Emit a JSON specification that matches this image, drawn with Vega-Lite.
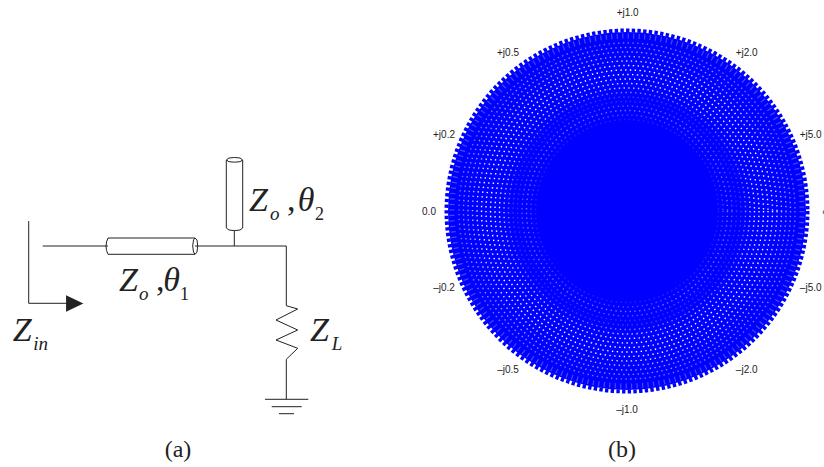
{"$schema":"https://vega.github.io/schema/vega-lite/v6.json","width":824,"height":467,"padding":0,"autosize":{"type":"none"},"background":"white","config":{"view":{"stroke":null}},
"encoding":{"x":{"field":"x","type":"quantitative","scale":{"domain":[0,824],"nice":false,"zero":false},"axis":null},"y":{"field":"y","type":"quantitative","scale":{"domain":[467,0],"nice":false,"zero":false},"axis":null}},
"layer":[
{"data":{"values":[{"x":627,"y":211,"r":179}]},"mark":{"type":"point","shape":"circle","filled":true,"color":"#0000ff","opacity":1},"encoding":{"size":{"field":"r","type":"quantitative","legend":null,"scale":{"type":"pow","exponent":2,"domain":[0,182],"range":[0,132496]}}}},
{"data":{"values":[{"x":627,"y":211,"r":180.5}]},"mark":{"type":"point","shape":"circle","filled":false,"fill":null,"stroke":"#0000ff","strokeWidth":4,"strokeDash":[3.4,2.3],"opacity":1},"encoding":{"size":{"field":"r","type":"quantitative","legend":null,"scale":{"type":"pow","exponent":2,"domain":[0,182],"range":[0,132496]}}}},
{"data":{"values":[{"x":627,"y":211,"r":175}]},"mark":{"type":"point","shape":"circle","filled":false,"fill":null,"stroke":"white","strokeWidth":5,"strokeDash":[1.2,4.3],"opacity":0.28},"encoding":{"size":{"field":"r","type":"quantitative","legend":null,"scale":{"type":"pow","exponent":2,"domain":[0,182],"range":[0,132496]}}}},
{"data":{"values":[{"x":627,"y":211,"r":168,"d":0.45},{"x":627,"y":211,"r":163.5,"d":0.55},{"x":627,"y":211,"r":159,"d":0.6},{"x":627,"y":211,"r":154.5,"d":0.7},{"x":627,"y":211,"r":150,"d":0.85},{"x":627,"y":211,"r":145.5,"d":0.95},{"x":627,"y":211,"r":141,"d":1},{"x":627,"y":211,"r":136.5,"d":1},{"x":627,"y":211,"r":132,"d":0.95},{"x":627,"y":211,"r":127.5,"d":0.9},{"x":627,"y":211,"r":123,"d":0.8},{"x":627,"y":211,"r":118.5,"d":0.5},{"x":627,"y":211,"r":114,"d":0.25},{"x":627,"y":211,"r":109.5,"d":0.2},{"x":627,"y":211,"r":105,"d":0.35},{"x":627,"y":211,"r":100.5,"d":0.45},{"x":627,"y":211,"r":96,"d":0.3},{"x":627,"y":211,"r":91.5,"d":0.15}]},"mark":{"type":"point","shape":"circle","filled":false,"fill":null,"stroke":"white","strokeWidth":1.4,"strokeDash":[1.4,3.4]},"encoding":{"size":{"field":"r","type":"quantitative","legend":null,"scale":{"type":"pow","exponent":2,"domain":[0,182],"range":[0,132496]}},"opacity":{"field":"d","type":"quantitative","legend":null,"scale":{"domain":[0,1],"range":[0,1]}}}},
{"data":{"values":[
{"s":"a","k":1,"x":28.7,"y":221},{"s":"a","k":2,"x":28.7,"y":303.3},{"s":"a","k":3,"x":67,"y":303.3},
{"s":"b","k":1,"x":42.7,"y":246},{"s":"b","k":2,"x":108,"y":246},
{"s":"c","k":1,"x":195,"y":246},{"s":"c","k":2,"x":286.3,"y":246},{"s":"c","k":3,"x":286.3,"y":305.7},{"s":"c","k":4,"x":297.7,"y":309},{"s":"c","k":5,"x":276,"y":320},{"s":"c","k":6,"x":297.7,"y":330},{"s":"c","k":7,"x":276,"y":340},{"s":"c","k":8,"x":297.7,"y":348.3},{"s":"c","k":9,"x":286.3,"y":359.3},{"s":"c","k":10,"x":286.3,"y":399.3},
{"s":"d","k":1,"x":265,"y":399.3},{"s":"d","k":2,"x":308.3,"y":399.3},
{"s":"e","k":1,"x":271.7,"y":406.7},{"s":"e","k":2,"x":301.7,"y":406.7},
{"s":"f","k":1,"x":279,"y":413.7},{"s":"f","k":2,"x":294,"y":413.7},
{"s":"g","k":1,"x":234.3,"y":246},{"s":"g","k":2,"x":234.3,"y":230.7},
{"s":"h","k":1,"x":108,"y":238},{"s":"h","k":2,"x":195,"y":238},
{"s":"i","k":1,"x":108,"y":254.3},{"s":"i","k":2,"x":195,"y":254.3},
{"s":"j","k":1,"x":108,"y":238},{"s":"j","k":2,"x":106.5,"y":242},{"s":"j","k":3,"x":106,"y":246},{"s":"j","k":4,"x":106.5,"y":250.5},{"s":"j","k":5,"x":108,"y":254.3},
{"s":"l","k":1,"x":195,"y":238},{"s":"l","k":2,"x":197,"y":240},{"s":"l","k":3,"x":197.7,"y":246},{"s":"l","k":4,"x":197,"y":252},{"s":"l","k":5,"x":195,"y":254.3},{"s":"l","k":6,"x":193.5,"y":252},{"s":"l","k":7,"x":192.7,"y":246},{"s":"l","k":8,"x":193.5,"y":240},{"s":"l","k":9,"x":195,"y":238},
{"s":"m","k":1,"x":226.3,"y":160},{"s":"m","k":2,"x":229,"y":158},{"s":"m","k":3,"x":234.5,"y":157.5},{"s":"m","k":4,"x":240,"y":158},{"s":"m","k":5,"x":242.7,"y":160},{"s":"m","k":6,"x":240,"y":161.7},{"s":"m","k":7,"x":234.5,"y":162.2},{"s":"m","k":8,"x":229,"y":161.7},{"s":"m","k":9,"x":226.3,"y":160},
{"s":"n","k":1,"x":226.3,"y":160},{"s":"n","k":2,"x":226.3,"y":228},{"s":"n","k":3,"x":229,"y":230},{"s":"n","k":4,"x":234.5,"y":230.7},{"s":"n","k":5,"x":240,"y":230},{"s":"n","k":6,"x":242.7,"y":228},{"s":"n","k":7,"x":242.7,"y":160}
]},"mark":{"type":"line","color":"#222222","strokeWidth":1},"encoding":{"detail":{"field":"s"},"order":{"field":"k","type":"quantitative"}}},
{"data":{"values":[{"x":74.7,"y":303.5}]},"mark":{"type":"point","shape":"M-1,-0.96L1,0L-1,0.96Z","filled":true,"color":"#222222","opacity":1,"size":300}},
{"data":{"values":[{"x":249,"y":210.7,"t":"Z"},{"x":119,"y":290.7,"t":"Z"},{"x":12.7,"y":340.7,"t":"Z"},{"x":310,"y":340.7,"t":"Z"},{"x":297.7,"y":210.7,"t":"θ"},{"x":163.3,"y":290.7,"t":"θ"}]},"mark":{"type":"text","font":"Liberation Serif","fontStyle":"italic","fontSize":34,"align":"left","baseline":"alphabetic","color":"#222222"},"encoding":{"text":{"field":"t"}}},
{"data":{"values":[{"x":287,"y":210.7,"t":","},{"x":156,"y":290.7,"t":","}]},"mark":{"type":"text","font":"Liberation Serif","fontSize":34,"align":"left","baseline":"alphabetic","color":"#222222"},"encoding":{"text":{"field":"t"}}},
{"data":{"values":[{"x":270,"y":220,"t":"o"},{"x":139,"y":300,"t":"o"},{"x":33.3,"y":350,"t":"in"},{"x":331.7,"y":350,"t":"L"}]},"mark":{"type":"text","font":"Liberation Serif","fontStyle":"italic","fontSize":19,"align":"left","baseline":"alphabetic","color":"#222222"},"encoding":{"text":{"field":"t"}}},
{"data":{"values":[{"x":315,"y":220,"t":"2"},{"x":180,"y":300,"t":"1"}]},"mark":{"type":"text","font":"Liberation Serif","fontSize":18,"align":"left","baseline":"alphabetic","color":"#222222"},"encoding":{"text":{"field":"t"}}},
{"data":{"values":[{"x":178,"y":456.5,"t":"(a)"},{"x":622,"y":456.5,"t":"(b)"}]},"mark":{"type":"text","font":"Liberation Serif","fontSize":24,"align":"center","baseline":"alphabetic","color":"#222222"},"encoding":{"text":{"field":"t"}}},
{"data":{"values":[{"x":627.7,"y":12.7,"t":"+j1.0"},{"x":508,"y":52.7,"t":"+j0.5"},{"x":746.7,"y":52.7,"t":"+j2.0"},{"x":444,"y":135,"t":"+j0.2"},{"x":810.7,"y":134.7,"t":"+j5.0"},{"x":429,"y":212,"t":"0.0"},{"x":444,"y":288,"t":"–j0.2"},{"x":810.7,"y":288,"t":"–j5.0"},{"x":508,"y":370,"t":"–j0.5"},{"x":746.7,"y":370,"t":"–j2.0"},{"x":627,"y":410,"t":"–j1.0"},{"x":826,"y":212,"t":"∞"}]},"mark":{"type":"text","font":"Liberation Sans","fontSize":10,"align":"center","baseline":"middle","color":"#222222"},"encoding":{"text":{"field":"t"}}}
]}
